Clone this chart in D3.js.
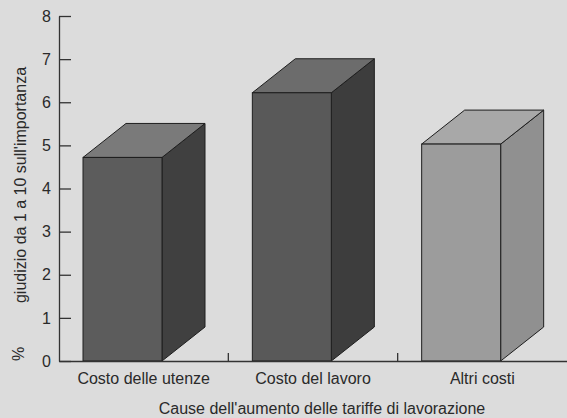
<!DOCTYPE html>
<html>
<head>
<meta charset="utf-8">
<script src="https://cdn.jsdelivr.net/npm/d3@7"></script>
<style>
  body { margin: 0; background: #dcdcdc; }
  svg { display: block; font-family: "Liberation Sans", Arial, sans-serif; }
</style>
</head>
<body>
<div id="chart"></div>
<script>
// data
var categories = ["Costo delle utenze", "Costo del lavoro", "Altri costi"];
var values = [4.72, 6.22, 5.03];
var yTicks = [0, 1, 2, 3, 4, 5, 6, 7, 8];

var width = 567, height = 418;
var plotLeft = 59, plotRight = 567, plotTop = 16, plotBottom = 361;
// depth of the fake 3d box
var dx = 43, dy = 34;

var faces = [
  { front: "#5c5c5c", side: "#404040", top: "#7a7a7a" },
  { front: "#595959", side: "#3d3d3d", top: "#6c6c6c" },
  { front: "#9c9c9c", side: "#909090", top: "#a8a8a8" }
];

var svg = d3.select("#chart")
  .append("svg")
  .attr("width", width)
  .attr("height", height);

svg.append("rect")
  .attr("width", width)
  .attr("height", height)
  .attr("fill", "#dcdcdc");

var x = d3.scaleBand()
  .domain(categories)
  .range([plotLeft, plotRight]);

var y = d3.scaleLinear()
  .domain([0, 8])
  .range([plotBottom, plotTop]);

var barW = 79, barOff = 24;

var bars = svg.selectAll("g.bar")
  .data(values)
  .enter()
  .append("g")
  .attr("class", "bar");

// side face
bars.append("path")
  .attr("fill", (d, i) => faces[i].side)
  .attr("stroke", "#1e1e1e")
  .attr("stroke-width", 1)
  .attr("d", function(d, i) {
    var x1 = x(categories[i]) + barOff + barW;
    return "M" + x1 + "," + y(0) +
      "L" + (x1 + dx) + "," + (y(0) - dy) +
      "L" + (x1 + dx) + "," + (y(d) - dy) +
      "L" + x1 + "," + y(d) + "Z";
  });

// top face
bars.append("path")
  .attr("fill", (d, i) => faces[i].top)
  .attr("stroke", "#1e1e1e")
  .attr("stroke-width", 1)
  .attr("d", function(d, i) {
    var x0 = x(categories[i]) + barOff;
    return "M" + x0 + "," + y(d) +
      "L" + (x0 + dx) + "," + (y(d) - dy) +
      "L" + (x0 + barW + dx) + "," + (y(d) - dy) +
      "L" + (x0 + barW) + "," + y(d) + "Z";
  });

// front face
bars.append("rect")
  .attr("x", (d, i) => x(categories[i]) + barOff)
  .attr("y", d => y(d))
  .attr("width", barW)
  .attr("height", d => y(0) - y(d))
  .attr("fill", (d, i) => faces[i].front)
  .attr("stroke", "#1e1e1e")
  .attr("stroke-width", 1);

// y axis
var yAxis = svg.append("g")
  .attr("transform", "translate(" + plotLeft + ",0)")
  .call(d3.axisLeft(y).tickValues(yTicks).tickSizeInner(-12).tickSizeOuter(0).tickPadding(8));

yAxis.select(".domain").attr("stroke", "#333").attr("stroke-width", 1.3);
yAxis.selectAll(".tick line").attr("stroke", "#333").attr("stroke-width", 1.3);
yAxis.selectAll(".tick text")
  .attr("font-size", 16)
  .attr("fill", "#2a2a2a")
  .attr("font-family", "Liberation Sans, Arial, sans-serif");

// x axis
var xAxis = svg.append("g")
  .attr("transform", "translate(0," + plotBottom + ")")
  .call(d3.axisBottom(x).tickSize(0).tickPadding(12));

xAxis.select(".domain").attr("stroke", "#333").attr("stroke-width", 1.3);
xAxis.selectAll(".tick text")
  .attr("font-size", 16)
  .attr("fill", "#2a2a2a")
  .attr("font-family", "Liberation Sans, Arial, sans-serif");

// small ticks between categories
xAxis.selectAll("line.sep")
  .data(categories.slice(1))
  .enter()
  .append("line")
  .attr("class", "sep")
  .attr("x1", d => x(d))
  .attr("x2", d => x(d))
  .attr("y1", 0)
  .attr("y2", -8)
  .attr("stroke", "#333")
  .attr("stroke-width", 1.3);

// axis titles
svg.append("text")
  .attr("x", 322)
  .attr("y", 414)
  .attr("text-anchor", "middle")
  .attr("font-size", 16)
  .attr("fill", "#2a2a2a")
  .text("Cause dell'aumento delle tariffe di lavorazione");

svg.append("text")
  .attr("transform", "translate(26,185) rotate(-90)")
  .attr("text-anchor", "middle")
  .attr("font-size", 16)
  .attr("fill", "#2a2a2a")
  .text("giudizio da 1 a 10 sull'importanza");

svg.append("text")
  .attr("transform", "translate(24,354) rotate(-90)")
  .attr("text-anchor", "middle")
  .attr("font-size", 16)
  .attr("fill", "#2a2a2a")
  .text("%");
</script>
</body>
</html>
